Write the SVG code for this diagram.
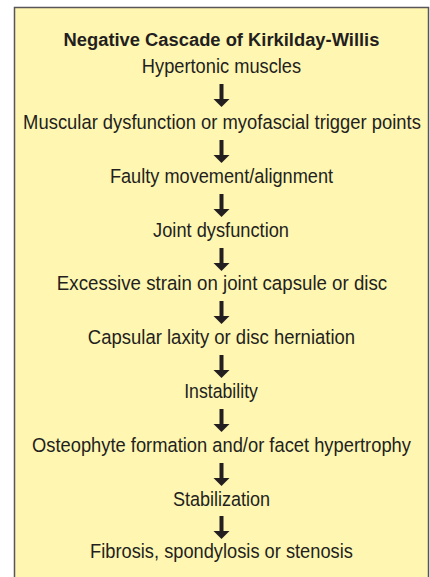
<svg xmlns="http://www.w3.org/2000/svg" xmlns:xlink="http://www.w3.org/1999/xlink" width="430" height="577" viewBox="0 0 430 577">
<style>
  .t { font-family: "Liberation Sans", Arial, sans-serif; font-size: 19.5px; fill: #231f20; text-anchor: middle; }
  .h { font-weight: bold; font-size: 19px; }
  .a { fill: #231f20; }
</style>
<defs>
  <path id="arr" d="M -2 0 L 2 0 L 2 15 L 8 15 L 0 23 L -8 15 L -2 15 Z"/>
</defs>
<rect x="14.5" y="7.5" width="414" height="580" fill="#fff6b2" stroke="#58565a" stroke-width="1.5"/>
<g transform="scale(0.9 1)">
<g id="title"><text class="t h" x="246.1" y="46" textLength="351" lengthAdjust="spacingAndGlyphs">Negative Cascade of Kirkilday-Willis</text></g>
<g id="n1"><text class="t" x="246.1" y="73" textLength="177" lengthAdjust="spacingAndGlyphs">Hypertonic muscles</text></g>
<g id="n2"><text class="t" x="246.7" y="129" textLength="442" lengthAdjust="spacingAndGlyphs">Muscular dysfunction or myofascial trigger points</text></g>
<g id="n3"><text class="t" x="246.1" y="183" textLength="248" lengthAdjust="spacingAndGlyphs">Faulty movement/alignment</text></g>
<g id="n4"><text class="t" x="245.6" y="237" textLength="151" lengthAdjust="spacingAndGlyphs">Joint dysfunction</text></g>
<g id="n5"><text class="t" x="246.7" y="290" textLength="367" lengthAdjust="spacingAndGlyphs">Excessive strain on joint capsule or disc</text></g>
<g id="n6"><text class="t" x="246.1" y="344" textLength="297" lengthAdjust="spacingAndGlyphs">Capsular laxity or disc herniation</text></g>
<g id="n7"><text class="t" x="245.6" y="398" textLength="82" lengthAdjust="spacingAndGlyphs">Instability</text></g>
<g id="n8"><text class="t" x="246.1" y="452" textLength="421" lengthAdjust="spacingAndGlyphs">Osteophyte formation and/or facet hypertrophy</text></g>
<g id="n9"><text class="t" x="246.1" y="506" textLength="108" lengthAdjust="spacingAndGlyphs">Stabilization</text></g>
<g id="n10"><text class="t" x="246.1" y="558" textLength="292" lengthAdjust="spacingAndGlyphs">Fibrosis, spondylosis or stenosis</text></g>
</g>
<g id="connectors" class="a">
  <use xlink:href="#arr" href="#arr" x="221.5" y="84"/>
  <use xlink:href="#arr" href="#arr" x="221.5" y="140"/>
  <use xlink:href="#arr" href="#arr" x="221.5" y="194"/>
  <use xlink:href="#arr" href="#arr" x="221.5" y="248"/>
  <use xlink:href="#arr" href="#arr" x="221.5" y="301"/>
  <use xlink:href="#arr" href="#arr" x="221.5" y="355"/>
  <use xlink:href="#arr" href="#arr" x="221.5" y="409"/>
  <use xlink:href="#arr" href="#arr" x="221.5" y="463"/>
  <use xlink:href="#arr" href="#arr" x="221.5" y="516"/>
</g>
</svg>
